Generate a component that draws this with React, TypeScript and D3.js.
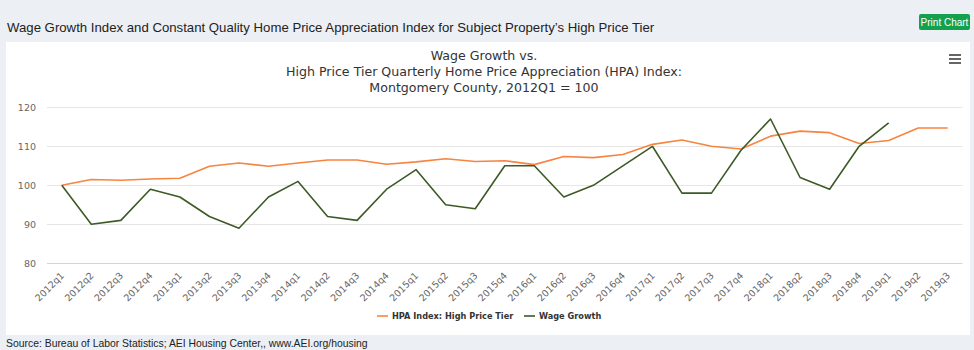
import React, { useEffect, useRef } from 'react';
import * as d3 from 'd3';

const quarters = [
  '2012q1', '2012q2', '2012q3', '2012q4',
  '2013q1', '2013q2', '2013q3', '2013q4',
  '2014q1', '2014q2', '2014q3', '2014q4',
  '2015q1', '2015q2', '2015q3', '2015q4',
  '2016q1', '2016q2', '2016q3', '2016q4',
  '2017q1', '2017q2', '2017q3', '2017q4',
  '2018q1', '2018q2', '2018q3', '2018q4',
  '2019q1', '2019q2', '2019q3',
];

// HPA index, high price tier
const hpaValues = [
  100, 101.5, 101.3, 101.6, 101.8, 104.9, 105.7, 104.9,
  105.7, 106.5, 106.5, 105.4, 106.0, 106.8, 106.1, 106.3,
  105.3, 107.4, 107.1, 107.9, 110.5, 111.6, 110.0, 109.3,
  112.6, 113.9, 113.5, 110.7, 111.5, 114.7, 114.7,
];

// Wage growth (stops at 2019q1)
const wageValues: (number | null)[] = [
  100, 90, 91, 99, 97, 92, 89, 97,
  101, 92, 91, 99, 104, 95, 94, 105,
  105, 97, 100, 105, 110, 98, 98, 109,
  117, 102, 99, 110, 116, null, null,
];

const yTicks = [80, 90, 100, 110, 120];

const titleLines = [
  'Wage Growth vs.',
  'High Price Tier Quarterly Home Price Appreciation (HPA) Index:',
  'Montgomery County, 2012Q1 = 100',
];

const seriesInfo = [
  { name: 'HPA Index: High Price Tier', color: '#f7843f' },
  { name: 'Wage Growth', color: '#3d5a26' },
];

const W = 974;
const H = 350;

export default function App() {
  const svgRef = useRef<SVGSVGElement>(null);

  useEffect(() => {
    if (!svgRef.current) return;
    const svg = d3.select(svgRef.current);
    svg.selectAll('*').remove();

    const pageFont = 'Liberation Sans, Arial, sans-serif';
    const font = 'DejaVu Sans, sans-serif';

    // page background
    svg.append('rect').attr('width', W).attr('height', H).attr('fill', '#eceff4');

    // page heading
    svg.append('text')
      .attr('x', 7)
      .attr('y', 32)
      .style('font-family', pageFont)
      .style('font-size', '13.2px')
      .attr('fill', '#222')
      .text('Wage Growth Index and Constant Quality Home Price Appreciation Index for Subject Property\u2019s High Price Tier');

    // print button
    const btn = svg.append('g').attr('transform', 'translate(919,14)');
    btn.append('rect')
      .attr('width', 51)
      .attr('height', 16)
      .attr('rx', 2)
      .attr('fill', '#13a14d');
    btn.append('text')
      .attr('x', 25.5)
      .attr('y', 11.5)
      .attr('text-anchor', 'middle')
      .style('font-family', pageFont)
      .style('font-size', '10px')
      .attr('fill', '#fff')
      .text('Print Chart');

    // chart panel
    svg.append('rect')
      .attr('x', 6)
      .attr('y', 42)
      .attr('width', 964)
      .attr('height', 293)
      .attr('fill', '#fff');

    // menu icon
    [0, 4, 8].forEach(dy => {
      svg.append('rect')
        .attr('x', 949)
        .attr('y', 54 + dy)
        .attr('width', 12)
        .attr('height', 2)
        .attr('fill', '#666');
    });

    // footer
    svg.append('text')
      .attr('x', 6)
      .attr('y', 347)
      .style('font-family', pageFont)
      .style('font-size', '10.4px')
      .attr('fill', '#222')
      .text('Source: Bureau of Labor Statistics; AEI Housing Center,, www.AEI.org/housing');

    // title
    svg.append('text')
      .attr('text-anchor', 'middle')
      .style('font-family', font)
      .style('font-size', '12.6px')
      .attr('fill', '#333')
      .selectAll('tspan')
      .data(titleLines)
      .enter()
      .append('tspan')
      .attr('x', 484)
      .attr('y', (_, i) => 60 + i * 16)
      .text(d => d);

    const left = 47;
    const right = 962.5;
    const top = 107.3;
    const bottom = 263.3;

    const x = d3.scalePoint<string>().domain(quarters).range([left, right]).padding(0.5);
    const y = d3.scaleLinear().domain([80, 120]).range([bottom, top]);

    // gridlines
    svg.append('g')
      .selectAll('line')
      .data(yTicks)
      .enter()
      .append('line')
      .attr('x1', left)
      .attr('x2', right)
      .attr('y1', d => Math.round(y(d)) + 0.5)
      .attr('y2', d => Math.round(y(d)) + 0.5)
      .attr('stroke', d => (d === 80 ? '#ccd6eb' : '#e6e6e6'))
      .attr('stroke-width', 1);

    // y labels
    svg.append('g')
      .selectAll('text')
      .data(yTicks)
      .enter()
      .append('text')
      .attr('x', 36)
      .attr('y', d => y(d) + 3.5)
      .attr('text-anchor', 'end')
      .style('font-family', font)
      .style('font-size', '9.5px')
      .attr('fill', '#666')
      .text(d => d);

    // x labels
    svg.append('g')
      .selectAll('text')
      .data(quarters)
      .enter()
      .append('text')
      .attr('transform', d => `translate(${(x(d) || 0) + 3},${bottom + 13}) rotate(-45)`)
      .attr('text-anchor', 'end')
      .style('font-family', font)
      .style('font-size', '9.5px')
      .attr('fill', '#666')
      .text(d => d);

    const lineFor = (vals: (number | null)[]) =>
      d3.line<number | null>()
        .defined(d => d !== null)
        .x((_, i) => x(quarters[i]) || 0)
        .y(d => y(d as number))(vals);

    svg.append('path')
      .attr('d', lineFor(hpaValues))
      .attr('fill', 'none')
      .attr('stroke', seriesInfo[0].color)
      .attr('stroke-width', 1.6)
      .attr('stroke-linejoin', 'round');

    svg.append('path')
      .attr('d', lineFor(wageValues))
      .attr('fill', 'none')
      .attr('stroke', seriesInfo[1].color)
      .attr('stroke-width', 1.6)
      .attr('stroke-linejoin', 'round');

    // legend
    const legendX = [377, 524];
    seriesInfo.forEach((s, i) => {
      const g = svg.append('g').attr('transform', `translate(${legendX[i]},316)`);
      g.append('line')
        .attr('x1', 0)
        .attr('x2', 11)
        .attr('y1', 0)
        .attr('y2', 0)
        .attr('stroke', s.color)
        .attr('stroke-width', 1.6);
      g.append('text')
        .attr('x', 15)
        .attr('y', 3.2)
        .style('font-family', font)
        .style('font-size', '8.2px')
        .style('font-weight', 'bold')
        .attr('fill', '#333')
        .text(s.name);
    });
  }, []);

  return (
    <div style={{ position: 'absolute', top: 0, left: 0 }}>
      <svg ref={svgRef} width={W} height={H} style={{ display: 'block' }} />
    </div>
  );
}
